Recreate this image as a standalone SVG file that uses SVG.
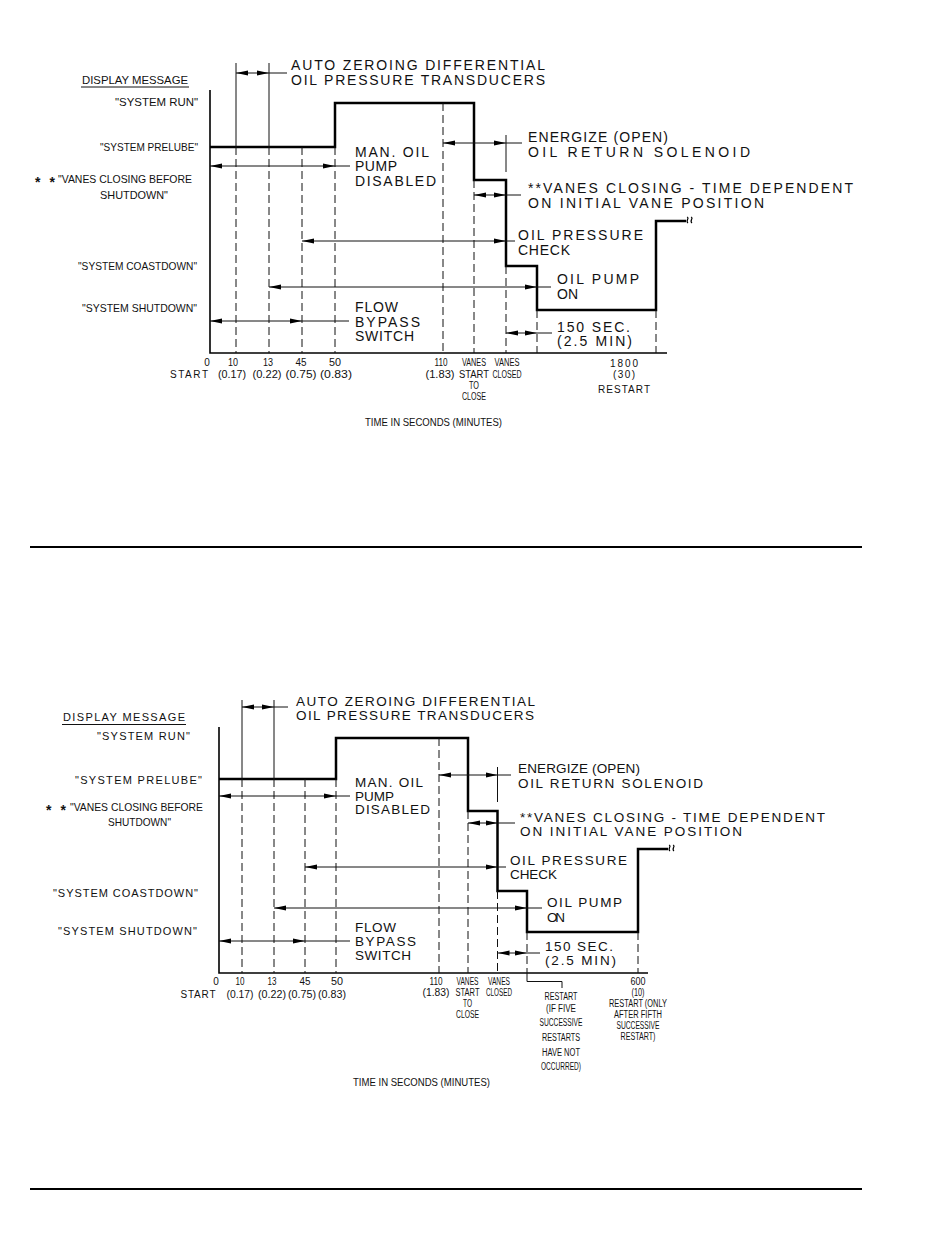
<svg xmlns="http://www.w3.org/2000/svg" width="950" height="1248" viewBox="0 0 950 1248">
<style>
.step{stroke:#000;stroke-width:2.5;fill:none;stroke-linejoin:miter}
.axis{stroke:#000;stroke-width:1.6;fill:none}
.thin{stroke:#111;stroke-width:1;fill:none}
.dash{stroke:#111;stroke-width:1;fill:none;stroke-dasharray:8 4}
.dim{stroke:#111;stroke-width:1;fill:none;marker-start:url(#arrS);marker-end:url(#arrE)}
.sep{stroke:#000;stroke-width:2}
text{font-family:"Liberation Sans",Arial,sans-serif;fill:#111}
.big{font-size:14px}
.bigb{font-size:13.5px}
.lbl{font-size:10.5px}
.lblb{font-size:11px}
.ast{font-size:14px;font-weight:bold}
.sm{font-size:10px;text-anchor:middle}
.brk{stroke:#000;stroke-width:1.2;fill:none}
</style>
<defs>
<marker id="arrE" markerUnits="userSpaceOnUse" markerWidth="12" markerHeight="6" refX="12" refY="3" orient="auto"><path d="M0,0.5 L12,3 L0,5.5 z" fill="#000"/></marker>
<marker id="arrS" markerUnits="userSpaceOnUse" markerWidth="12" markerHeight="6" refX="12" refY="3" orient="auto-start-reverse"><path d="M0,0.5 L12,3 L0,5.5 z" fill="#000"/></marker>
</defs>

<!-- ================= TOP DIAGRAM ================= -->
<g id="top-axes">
<path class="axis" d="M210,90 V353 H667"/>
</g>
<g id="top-step">
<path class="step" d="M210,147 H335 V103 H474 V180 H506 V266 H537 V310 H656 V221 H686"/>
<path class="brk" d="M687,217 c3,1 -2,4 1,6 M691,217 c3,1 -2,4 1,6"/>
</g>
<g id="top-connectors">
<path class="thin" d="M236,63 V147 M269,63 V147 M506,135 V172"/>
<path class="dash" d="M236,147 V353 M269,147 V353 M302,147 V353 M335,147 V353 M443,103 V353 M474,180 V353 M506,266 V353 M537,310 V353 M656,310 V353"/>
<path class="dim" d="M236,73 H269"/><path class="thin" d="M269,73 H287"/>
<path class="dim" d="M210,166 H335"/><path class="thin" d="M335,166 H350"/>
<path class="dim" d="M443,143 H506"/><path class="thin" d="M506,143 H522"/>
<path class="dim" d="M474,195 H506"/><path class="thin" d="M506,195 H521"/>
<path class="dim" d="M302,241 H506"/><path class="thin" d="M506,241 H515"/>
<path class="dim" d="M269,287 H537"/><path class="thin" d="M537,287 H551"/>
<path class="dim" d="M210,321 H302"/><path class="thin" d="M302,321 H349"/>
<path class="dim" d="M506,333 H537"/><path class="thin" d="M537,333 H552"/>
</g>
<g id="top-notes">
<text class="big" x="291" y="69.5" textLength="254" lengthAdjust="spacing">AUTO ZEROING DIFFERENTIAL</text>
<text class="big" x="291" y="84.5" textLength="254" lengthAdjust="spacing">OIL PRESSURE TRANSDUCERS</text>
<text class="big" x="355" y="157" textLength="74" lengthAdjust="spacing">MAN. OIL</text>
<text class="big" x="355" y="171" textLength="42" lengthAdjust="spacing">PUMP</text>
<text class="big" x="355" y="186" textLength="81" lengthAdjust="spacing">DISABLED</text>
<text class="big" x="528" y="142" textLength="140" lengthAdjust="spacing">ENERGIZE (OPEN)</text>
<text class="big" x="528" y="156.5" textLength="222" lengthAdjust="spacing">OIL RETURN SOLENOID</text>
<text class="big" x="528" y="193" textLength="325" lengthAdjust="spacing">**VANES CLOSING - TIME DEPENDENT</text>
<text class="big" x="528" y="208" textLength="236" lengthAdjust="spacing">ON INITIAL VANE POSITION</text>
<text class="big" x="518" y="239.5" textLength="125" lengthAdjust="spacing">OIL PRESSURE</text>
<text class="big" x="518" y="254.5" textLength="52" lengthAdjust="spacing">CHECK</text>
<text class="big" x="557" y="283.5" textLength="82" lengthAdjust="spacing">OIL PUMP</text>
<text class="big" x="557" y="299" textLength="21" lengthAdjust="spacing">ON</text>
<text class="big" x="355" y="312" textLength="43" lengthAdjust="spacing">FLOW</text>
<text class="big" x="355" y="326.5" textLength="65" lengthAdjust="spacing">BYPASS</text>
<text class="big" x="355" y="341" textLength="59" lengthAdjust="spacing">SWITCH</text>
<text class="big" x="557" y="331.5" textLength="73" lengthAdjust="spacing">150 SEC.</text>
<text class="big" x="557" y="345.5" textLength="75" lengthAdjust="spacing">(2.5 MIN)</text>
</g>
<g id="top-messages">
<text class="lbl" x="82" y="83.5" textLength="106" lengthAdjust="spacingAndGlyphs">DISPLAY MESSAGE</text>
<path class="thin" d="M81,87 H189"/>
<text class="lbl" x="115" y="105.5" textLength="83" lengthAdjust="spacingAndGlyphs">"SYSTEM RUN"</text>
<text class="lbl" x="100" y="151" textLength="98" lengthAdjust="spacingAndGlyphs">"SYSTEM PRELUBE"</text>
<text class="ast" x="35" y="187" textLength="20" lengthAdjust="spacing">**</text>
<text class="lbl" x="58" y="183" textLength="134" lengthAdjust="spacingAndGlyphs">"VANES CLOSING BEFORE</text>
<text class="lbl" x="100" y="199" textLength="68" lengthAdjust="spacingAndGlyphs">SHUTDOWN"</text>
<text class="lbl" x="78" y="270" textLength="119" lengthAdjust="spacingAndGlyphs">"SYSTEM COASTDOWN"</text>
<text class="lbl" x="82" y="312" textLength="115" lengthAdjust="spacingAndGlyphs">"SYSTEM SHUTDOWN"</text>
</g>
<g id="top-scale">
<text class="sm" x="207" y="365.5">0</text>
<text class="sm" x="233" y="365.5" textLength="10" lengthAdjust="spacingAndGlyphs">10</text>
<text class="sm" x="268" y="365.5" textLength="10" lengthAdjust="spacingAndGlyphs">13</text>
<text class="sm" x="301" y="365.5" textLength="11" lengthAdjust="spacingAndGlyphs">45</text>
<text class="sm" x="335" y="365.5" textLength="12" lengthAdjust="spacingAndGlyphs">50</text>
<text class="sm" x="189" y="378" textLength="38" lengthAdjust="spacing">START</text>
<text class="sm" x="232" y="377.5" textLength="28" lengthAdjust="spacingAndGlyphs">(0.17)</text>
<text class="sm" x="267" y="377.5" textLength="29" lengthAdjust="spacingAndGlyphs">(0.22)</text>
<text class="sm" x="301" y="377.5" textLength="31" lengthAdjust="spacingAndGlyphs">(0.75)</text>
<text class="sm" x="336" y="377.5" textLength="32" lengthAdjust="spacingAndGlyphs">(0.83)</text>
<text class="sm" x="441" y="365.5" textLength="13" lengthAdjust="spacingAndGlyphs">110</text>
<text class="sm" x="440" y="377.5" textLength="29" lengthAdjust="spacingAndGlyphs">(1.83)</text>
<text class="sm" x="474" y="365.5" textLength="24" lengthAdjust="spacingAndGlyphs">VANES</text>
<text class="sm" x="474" y="377.5" textLength="30" lengthAdjust="spacingAndGlyphs">START</text>
<text class="sm" x="474" y="388.5" textLength="10" lengthAdjust="spacingAndGlyphs">TO</text>
<text class="sm" x="474" y="400" textLength="24" lengthAdjust="spacingAndGlyphs">CLOSE</text>
<text class="sm" x="507" y="365.5" textLength="25" lengthAdjust="spacingAndGlyphs">VANES</text>
<text class="sm" x="507" y="377.5" textLength="29" lengthAdjust="spacingAndGlyphs">CLOSED</text>
<text class="sm" x="624" y="366.5" textLength="28" lengthAdjust="spacing">1800</text>
<text class="sm" x="624" y="378" textLength="22" lengthAdjust="spacing">(30)</text>
<text class="sm" x="624" y="392.5" textLength="52" lengthAdjust="spacing">RESTART</text>
<text class="lbl" x="365" y="426" textLength="137" lengthAdjust="spacingAndGlyphs">TIME IN SECONDS (MINUTES)</text>
</g>

<line id="sep1" class="sep" x1="30" y1="547" x2="862" y2="547"/>

<!-- ================= BOTTOM DIAGRAM ================= -->
<g id="bot-axes">
<path class="axis" d="M219,727 V973 H648"/>
</g>
<g id="bot-step">
<path class="step" d="M219,779 H336 V738 H468 V811 H497.5 V891 H527 V932 H638 V849 H668"/>
<path class="brk" d="M669,845 c3,1 -2,4 1,6 M673,845 c3,1 -2,4 1,6"/>
</g>
<g id="bot-connectors">
<path class="thin" d="M242,700 V779 M274,700 V779 M497.5,767 V802 M527,973 V981.5 H562 V988"/>
<path class="dash" d="M242,779 V973 M274,779 V973 M305,779 V973 M336,779 V973 M439,738 V973 M468,811 V973 M497.5,891 V973 M527,932 V973 M638,932 V973"/>
<path class="dim" d="M242,707 H274"/><path class="thin" d="M274,707 H288"/>
<path class="dim" d="M219,796 H336"/><path class="thin" d="M336,796 H350"/>
<path class="dim" d="M439,775 H497.5"/><path class="thin" d="M497.5,775 H511"/>
<path class="dim" d="M468,823 H497.5"/><path class="thin" d="M497.5,823 H515"/>
<path class="dim" d="M305,867 H497.5"/><path class="thin" d="M497.5,867 H506"/>
<path class="dim" d="M274,908 H527"/><path class="thin" d="M527,908 H542"/>
<path class="dim" d="M219,941 H305"/><path class="thin" d="M305,941 H350"/>
<path class="dim" d="M497.5,953 H527"/><path class="thin" d="M527,953 H540"/>
</g>
<g id="bot-notes">
<text class="bigb" x="296" y="706" textLength="239" lengthAdjust="spacing">AUTO ZEROING DIFFERENTIAL</text>
<text class="bigb" x="296" y="719.5" textLength="238" lengthAdjust="spacing">OIL PRESSURE TRANSDUCERS</text>
<text class="bigb" x="355" y="787" textLength="68" lengthAdjust="spacing">MAN. OIL</text>
<text class="bigb" x="355" y="800.5" textLength="39" lengthAdjust="spacing">PUMP</text>
<text class="bigb" x="355" y="814" textLength="75" lengthAdjust="spacing">DISABLED</text>
<text class="bigb" x="518" y="773" textLength="122" lengthAdjust="spacing">ENERGIZE (OPEN)</text>
<text class="bigb" x="518" y="787.5" textLength="185" lengthAdjust="spacing">OIL RETURN SOLENOID</text>
<text class="bigb" x="520" y="821.5" textLength="305" lengthAdjust="spacing">**VANES CLOSING - TIME DEPENDENT</text>
<text class="bigb" x="520" y="836" textLength="222" lengthAdjust="spacing">ON INITIAL VANE POSITION</text>
<text class="bigb" x="510" y="864.5" textLength="117" lengthAdjust="spacing">OIL PRESSURE</text>
<text class="bigb" x="510" y="879" textLength="47" lengthAdjust="spacing">CHECK</text>
<text class="bigb" x="547" y="907" textLength="75" lengthAdjust="spacing">OIL PUMP</text>
<text class="bigb" x="547" y="922" textLength="18" lengthAdjust="spacing">ON</text>
<text class="bigb" x="355" y="931.5" textLength="41" lengthAdjust="spacing">FLOW</text>
<text class="bigb" x="355" y="946" textLength="61" lengthAdjust="spacing">BYPASS</text>
<text class="bigb" x="355" y="960" textLength="56" lengthAdjust="spacing">SWITCH</text>
<text class="bigb" x="545" y="951" textLength="68" lengthAdjust="spacing">150 SEC.</text>
<text class="bigb" x="545" y="965" textLength="71" lengthAdjust="spacing">(2.5 MIN)</text>
</g>
<g id="bot-messages">
<text class="lblb" x="63" y="720.5" textLength="122" lengthAdjust="spacing">DISPLAY MESSAGE</text>
<path class="thin" d="M62,724.5 H186"/>
<text class="lblb" x="97" y="739.5" textLength="93" lengthAdjust="spacing">"SYSTEM RUN"</text>
<text class="lblb" x="75" y="783.5" textLength="127" lengthAdjust="spacing">"SYSTEM PRELUBE"</text>
<text class="ast" x="46" y="815" textLength="20" lengthAdjust="spacing">**</text>
<text class="lblb" x="70" y="811" textLength="133" lengthAdjust="spacingAndGlyphs">"VANES CLOSING BEFORE</text>
<text class="lblb" x="108" y="826" textLength="63" lengthAdjust="spacingAndGlyphs">SHUTDOWN"</text>
<text class="lblb" x="53" y="897" textLength="145" lengthAdjust="spacing">"SYSTEM COASTDOWN"</text>
<text class="lblb" x="58" y="935" textLength="139" lengthAdjust="spacing">"SYSTEM SHUTDOWN"</text>
</g>
<g id="bot-scale">
<text class="sm" x="216" y="985">0</text>
<text class="sm" x="240" y="985" textLength="9" lengthAdjust="spacingAndGlyphs">10</text>
<text class="sm" x="272" y="985" textLength="9" lengthAdjust="spacingAndGlyphs">13</text>
<text class="sm" x="305" y="985" textLength="11" lengthAdjust="spacingAndGlyphs">45</text>
<text class="sm" x="337" y="985" textLength="12" lengthAdjust="spacingAndGlyphs">50</text>
<text class="sm" x="198" y="997.5" textLength="35" lengthAdjust="spacing">START</text>
<text class="sm" x="240" y="997.5" textLength="27" lengthAdjust="spacingAndGlyphs">(0.17)</text>
<text class="sm" x="272" y="997.5" textLength="28" lengthAdjust="spacingAndGlyphs">(0.22)</text>
<text class="sm" x="302" y="997.5" textLength="28" lengthAdjust="spacingAndGlyphs">(0.75)</text>
<text class="sm" x="332" y="997.5" textLength="28" lengthAdjust="spacingAndGlyphs">(0.83)</text>
<text class="sm" x="436" y="985" textLength="13" lengthAdjust="spacingAndGlyphs">110</text>
<text class="sm" x="436" y="996" textLength="27" lengthAdjust="spacingAndGlyphs">(1.83)</text>
<text class="sm" x="467.5" y="985" textLength="22" lengthAdjust="spacingAndGlyphs">VANES</text>
<text class="sm" x="467.5" y="996" textLength="24" lengthAdjust="spacingAndGlyphs">START</text>
<text class="sm" x="467.5" y="1007" textLength="9" lengthAdjust="spacingAndGlyphs">TO</text>
<text class="sm" x="467.5" y="1018" textLength="23" lengthAdjust="spacingAndGlyphs">CLOSE</text>
<text class="sm" x="499" y="985" textLength="22" lengthAdjust="spacingAndGlyphs">VANES</text>
<text class="sm" x="499" y="996" textLength="26" lengthAdjust="spacingAndGlyphs">CLOSED</text>
<text class="sm" x="561" y="1000" textLength="33" lengthAdjust="spacingAndGlyphs">RESTART</text>
<text class="sm" x="561" y="1012" textLength="30" lengthAdjust="spacingAndGlyphs">(IF FIVE</text>
<text class="sm" x="561" y="1026" textLength="43" lengthAdjust="spacingAndGlyphs">SUCCESSIVE</text>
<text class="sm" x="561" y="1041" textLength="38" lengthAdjust="spacingAndGlyphs">RESTARTS</text>
<text class="sm" x="561" y="1055.5" textLength="38" lengthAdjust="spacingAndGlyphs">HAVE NOT</text>
<text class="sm" x="561" y="1070" textLength="40" lengthAdjust="spacingAndGlyphs">OCCURRED)</text>
<text class="sm" x="638" y="985" textLength="15" lengthAdjust="spacingAndGlyphs">600</text>
<text class="sm" x="638" y="996" textLength="13" lengthAdjust="spacingAndGlyphs">(10)</text>
<text class="sm" x="638" y="1007" textLength="58" lengthAdjust="spacingAndGlyphs">RESTART (ONLY</text>
<text class="sm" x="638" y="1017.5" textLength="48" lengthAdjust="spacingAndGlyphs">AFTER FIFTH</text>
<text class="sm" x="638" y="1028.5" textLength="43" lengthAdjust="spacingAndGlyphs">SUCCESSIVE</text>
<text class="sm" x="638" y="1039.5" textLength="35" lengthAdjust="spacingAndGlyphs">RESTART)</text>
<text class="lbl" x="353" y="1086" textLength="137" lengthAdjust="spacingAndGlyphs">TIME IN SECONDS (MINUTES)</text>
</g>

<line id="sep2" class="sep" x1="30" y1="1189" x2="862" y2="1189"/>
</svg>
